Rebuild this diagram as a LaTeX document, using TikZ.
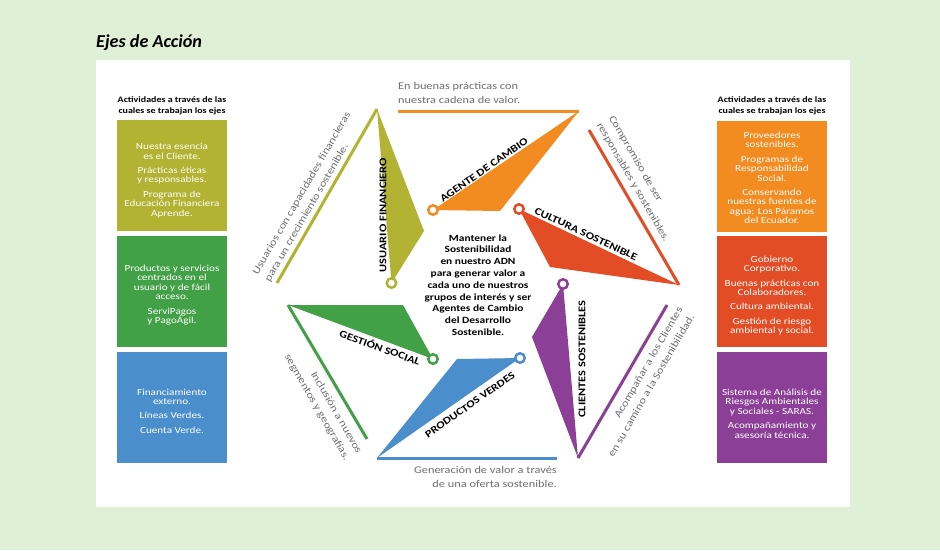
\documentclass[tikz,border=0pt]{standalone}
\usepackage{fontspec}
\setmainfont{Carlito}[FakeStretch=1.2]
\newfontfamily\titlefont{Carlito}
\usetikzlibrary{calc}
\definecolor{bgG}{HTML}{E0F0D6}
\definecolor{cOlive}{HTML}{B2B233}
\definecolor{cOrange}{HTML}{F28B20}
\definecolor{cRed}{HTML}{E34D25}
\definecolor{cPurple}{HTML}{8C3F97}
\definecolor{cBlue}{HTML}{4A8ECC}
\definecolor{cGreen}{HTML}{42A047}
\definecolor{capGray}{HTML}{6D6E71}
\begin{document}
\begin{tikzpicture}[x=1pt,y=-1pt,
  box/.style={inner sep=0pt, minimum width=110pt, minimum height=111pt},
  boxtext/.style={white, font=\fontsize{9.3}{9.4}\selectfont, align=center, inner sep=0pt},
  hdr/.style={font=\bfseries\fontsize{8.3}{11}\selectfont, align=center, inner sep=0pt},
  axislbl/.style={font=\bfseries\fontsize{10.3}{12}\selectfont, inner sep=0pt},
  captxt/.style={capGray, font=\fontsize{10.3}{14}\selectfont, inner sep=0pt},
  edgeline/.style={line width=3pt},
  ring/.style={circle, line width=2.5pt, fill=white, minimum size=9.5pt, inner sep=0pt}
]
\useasboundingbox (0,0) rectangle (940,550);
\fill[bgG] (0,0) rectangle (940,550);
\fill[white] (96,60) rectangle (850,507);
\node[anchor=base west, inner sep=0pt, font=\titlefont\bfseries\itshape\fontsize{18.2}{21}\selectfont] (title) at (96,47) {Ejes de Acción};

% headers
\node[hdr] (hl) at (172,106) {Actividades a través de las\\cuales se trabajan los ejes};
\node[hdr] (hr) at (772,106) {Actividades a través de las\\cuales se trabajan los ejes};

% left boxes
\node[box, fill=cOlive] (b1) at (172,175.5) {};
\node[boxtext] (t1) at ($(b1.center)+(0,5)$) {Nuestra esencia\\es el Cliente.\\[5pt]Prácticas éticas\\y responsables.\\[5pt]Programa de\\Educación Financiera\\Aprende.};
\node[box, fill=cGreen] (b2) at (172,291) {};
\node[boxtext] (t2) at ($(b2.center)+(0,4)$) {Productos y servicios\\centrados en el\\usuario y de fácil\\acceso.\\[5pt]ServiPagos\\y PagoÁgil.};
\node[box, fill=cBlue] (b3) at (172,407) {};
\node[boxtext] (t3) at ($(b3.center)+(0,4)$) {Financiamiento\\externo.\\[5pt]Líneas Verdes.\\[5pt]Cuenta Verde.};

% right boxes
\node[box, fill=cOrange] (b4) at (772,176) {};
\node[boxtext] (t4) at ($(b4.center)+(0,2)$) {Proveedores\\sostenibles.\\[5pt]Programas de\\Responsabilidad\\Social.\\[5pt]Conservando\\nuestras fuentes de\\agua: Los Páramos\\del Ecuador.};
\node[box, fill=cRed] (b5) at (772,291.5) {};
\node[boxtext] (t5) at ($(b5.center)+(0,4)$) {Gobierno\\Corporativo.\\[5pt]Buenas prácticas con\\Colaboradores.\\[5pt]Cultura ambiental.\\[5pt]Gestión de riesgo\\ambiental y social.};
\node[box, fill=cPurple] (b6) at (772,407.5) {};
\node[boxtext] (t6) at ($(b6.center)+(0,6)$) {Sistema de Análisis de\\Riesgos Ambientales\\y Sociales - SARAS.\\[5pt]Acompañamiento y\\asesoría técnica.};

% vertices
\coordinate (ufL) at (277,283);
\coordinate (ufT) at (377,109);
\coordinate (ufR) at (424,231);
\coordinate (ufC) at (391.5,283);

\coordinate (acL) at (398,111);
\coordinate (acT) at (579,111);
\coordinate (acB) at (500,211);
\coordinate (acC) at (433,210);

\coordinate (csS) at (589,130);
\coordinate (csR) at (679,285);
\coordinate (csB) at (550,267);
\coordinate (csC) at (519,209);

\coordinate (clE) at (667,305);
\coordinate (clB) at (578,458);
\coordinate (clL) at (532,337);
\coordinate (clC) at (563,284);

\coordinate (pvE) at (557,458);
\coordinate (pvB) at (377,458);
\coordinate (pvT) at (457,359);
\coordinate (pvC) at (520,358);

\coordinate (gsE) at (367,439);
\coordinate (gsT) at (288,305);
\coordinate (gsR) at (403,305);
\coordinate (gsC) at (433,359);

% olive
\fill[cOlive] (ufT) -- (ufR) -- (ufC) -- cycle;
\draw[cOlive, edgeline] (ufL) -- (ufT);
% orange
\fill[cOrange] (acC) -- (acT) -- (acB) -- cycle;
\draw[cOrange, edgeline] (acL) -- (acT);
% red
\fill[cRed] (csC) -- (csR) -- (csB) -- cycle;
\draw[cRed, edgeline] (csS) -- (csR);
% purple
\fill[cPurple] (clC) -- (clL) -- (clB) -- cycle;
\draw[cPurple, edgeline] (clB) -- (clE);
% blue
\fill[cBlue] (pvC) -- (pvT) -- (pvB) -- cycle;
\draw[cBlue, edgeline] (pvB) -- (pvE);
% green
\fill[cGreen] (gsT) -- (gsR) -- (gsC) -- cycle;
\draw[cGreen, edgeline] (gsT) -- (gsE);

% rings
\node[ring, draw=cOlive] (rUF) at (ufC) {};
\node[ring, draw=cOrange] (rAC) at (acC) {};
\node[ring, draw=cRed] (rCS) at (csC) {};
\node[ring, draw=cPurple] (rCL) at (clC) {};
\node[ring, draw=cBlue] (rPV) at (pvC) {};
\node[ring, draw=cGreen] (rGS) at (gsC) {};

% axis labels
\node[axislbl, rotate=90] (lUF) at (383,215) {USUARIO FINANCIERO};
\node[axislbl, rotate=35] (lAC) at (484,170) {AGENTE DE CAMBIO};
\node[axislbl, rotate=-25] (lCS) at (586,234) {CULTURA SOSTENIBLE};
\node[axislbl, rotate=90] (lCL) at (582,359) {CLIENTES SOSTENIBLES};
\node[axislbl, rotate=35] (lPV) at (470,405) {PRODUCTOS VERDES};
\node[axislbl, rotate=-20] (lGS) at (380,347) {GESTIÓN SOCIAL};

% captions
\node[captxt, align=left, rotate=60] (kUF) at (308,197) {Usuarios con capacidades financieras\\para un crecimiento sostenible.};
\node[captxt, align=left, anchor=base west] (kAC) at (398,103) {En buenas prácticas con\\nuestra cadena de valor.};
\node[captxt, align=left, rotate=-60] (kCS) at (639,179) {Compromiso de ser\\responsables y sostenibles.};
\node[captxt, align=right, rotate=60] (kCL) at (645,382) {Acompañar a los Clientes\\en su camino a la Sostenibilidad.};
\node[captxt, align=right, anchor=base east] (kPV) at (557,487) {Generación de valor a través\\de una oferta sostenible.};
\node[captxt, align=right, rotate=-60] (kGS) at (323,404) {Inclusión a nuevos\\segmentos y geografías.};

% center
\node[font=\bfseries\fontsize{9.5}{11.8}\selectfont, align=center, inner sep=0pt] (ctr) at (478,285) {Mantener la\\Sostenibilidad\\en nuestro ADN\\para generar valor a\\cada uno de nuestros\\grupos de interés y ser\\Agentes de Cambio\\del Desarrollo\\Sostenible.};
\end{tikzpicture}
\end{document}
